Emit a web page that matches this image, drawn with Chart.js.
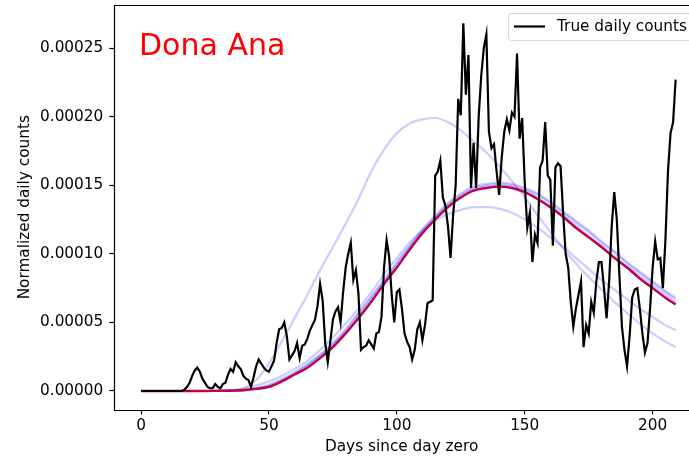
<!DOCTYPE html>
<html>
<head>
<meta charset="utf-8">
<script src="https://cdn.jsdelivr.net/npm/chart.js@4.4.1/dist/chart.umd.min.js"></script>
<style>
  html, body { margin: 0; padding: 0; background: #fff; overflow: hidden; }
  canvas { display: block; }
</style>
</head>
<body>
<canvas id="DashboardChart" width="689" height="462" style="width:689px;height:462px"></canvas>
<script>
// daily counts, index = day since day zero (0..209)
const trueCounts = [
  0, 0, 0, 0, 0, 0, 0, 0, 0, 0,
  0, 0, 0, 0, 0, 0, 0, 0.000001, 0.000003, 0.000006,
  0.000011, 0.000015, 0.000017, 0.000014, 0.000009, 0.000006, 0.000003, 0.000002, 0.000002, 0.000005,
  0.000003, 0.000002, 0.000005, 0.000006, 0.000012, 0.000016, 0.000014, 0.000021, 0.000018, 0.000016,
  0.000011, 0.000009, 0.000008, 0.000003, 0.000010, 0.000018, 0.000023, 0.000020, 0.000017, 0.000015,
  0.000014, 0.000018, 0.000022, 0.000035, 0.000045, 0.000046, 0.000050, 0.000040, 0.000023, 0.000026,
  0.000029, 0.000035, 0.000024, 0.000033, 0.000034, 0.000038, 0.000044, 0.000048, 0.000052, 0.000062,
  0.000078, 0.000066, 0.000035, 0.000021, 0.000036, 0.000052, 0.000058, 0.000061, 0.000050, 0.000072,
  0.000090, 0.000100, 0.000108, 0.000081, 0.000088, 0.000071, 0.000030, 0.000032, 0.000033, 0.000037,
  0.000034, 0.000031, 0.000042, 0.000043, 0.000054, 0.000090, 0.000110, 0.000098, 0.000070, 0.000050,
  0.000072, 0.000074, 0.000060, 0.000042, 0.000036, 0.000032, 0.000023, 0.000030, 0.000045, 0.000050,
  0.000037, 0.000048, 0.000064, 0.000065, 0.000066, 0.000157, 0.000160, 0.000168, 0.000141, 0.000135,
  0.000120, 0.000097, 0.000128, 0.000150, 0.000213, 0.000201, 0.000268, 0.000216, 0.000245, 0.000148,
  0.000181, 0.000148, 0.000200, 0.000230, 0.000250, 0.000260, 0.000189, 0.000177, 0.000180, 0.000160,
  0.000143, 0.000170, 0.000189, 0.000198, 0.000190, 0.000203, 0.000200, 0.000246, 0.000184, 0.000199,
  0.000152, 0.000119, 0.000130, 0.000094, 0.000114, 0.000108, 0.000163, 0.000168, 0.000196, 0.000157,
  0.000154, 0.000106, 0.000163, 0.000166, 0.000164, 0.000130, 0.000100, 0.000090, 0.000065, 0.000047,
  0.000060, 0.000070, 0.000080, 0.000032, 0.000048, 0.000042, 0.000065, 0.000057, 0.000080, 0.000094,
  0.000094, 0.000075, 0.000053, 0.000080, 0.000120, 0.000145, 0.000125, 0.000085, 0.000047, 0.000030,
  0.000018, 0.000040, 0.000068, 0.000074, 0.000075, 0.000060, 0.000042, 0.000028, 0.000035, 0.000060,
  0.000090, 0.000109, 0.000096, 0.000097, 0.000075, 0.000110, 0.000160, 0.000188, 0.000196, 0.000227
];

// model curves, read every 5 days
const fitDays = [0, 5, 10, 15, 20, 25, 30, 35, 40, 45, 50, 55, 60, 65, 70, 75, 80, 85, 90, 95, 100,
  105, 110, 115, 120, 125, 130, 135, 140, 145, 150, 155, 160, 165, 170, 175, 180, 185, 190, 195, 200, 205, 209];

const fitMean = [0, 0, 0, 0, 0, 0, 0.0000001, 0.0000002, 0.0000005, 0.0000015, 0.000003, 0.000007, 0.000012, 0.000017,
  0.000024, 0.000032, 0.000042, 0.000053, 0.000065, 0.000078, 0.000090, 0.000103, 0.000115, 0.000125, 0.000134,
  0.000141, 0.000146, 0.000148, 0.000149, 0.000148, 0.000145, 0.000140, 0.000134, 0.000127, 0.000119, 0.000112,
  0.000105, 0.000097, 0.000090, 0.000082, 0.000075, 0.000068, 0.000063];

const fitEarlyHigh = [0, 0, 0, 0, 0, 0, 0.0000001, 0.0000005, 0.000002, 0.000008, 0.000020, 0.000036, 0.000053, 0.000070,
  0.000088, 0.000105, 0.000122, 0.000140, 0.000160, 0.000176, 0.000188, 0.000195, 0.000198, 0.000199, 0.000196,
  0.000190, 0.000182, 0.000174, 0.000164, 0.000153, 0.000141, 0.000128, 0.000116, 0.000104, 0.000093, 0.000083,
  0.000074, 0.000065, 0.000057, 0.000049, 0.000042, 0.000036, 0.000032];

const fitLow = [0, 0, 0, 0, 0, 0, 0.0000001, 0.0000005, 0.0000015, 0.000004, 0.000007, 0.000011, 0.000016, 0.000022,
  0.000030, 0.000039, 0.000049, 0.000060, 0.000072, 0.000085, 0.000097, 0.000108, 0.000117, 0.000124, 0.000129,
  0.000132, 0.000134, 0.000134, 0.000133, 0.000130, 0.000125, 0.000119, 0.000112, 0.000105, 0.000097, 0.000089,
  0.000081, 0.000074, 0.000067, 0.000060, 0.000054, 0.000048, 0.0000445];

const fitNearA = [0, 0, 0, 0, 0, 0, 0.0000001, 0.0000003, 0.0000008, 0.0000022, 0.0000045, 0.0000085, 0.0000135, 0.0000195,
  0.0000265, 0.0000350, 0.000045, 0.000057, 0.000069, 0.000081, 0.000094, 0.000106, 0.000118, 0.000128, 0.000137,
  0.000144, 0.000149, 0.000151, 0.000152, 0.000151, 0.000148, 0.000144, 0.000138, 0.000131, 0.000124, 0.000117,
  0.000109, 0.000102, 0.000094, 0.000087, 0.000080, 0.000073, 0.000068];

const fitNearB = [0, 0, 0, 0, 0, 0, 0.0000001, 0.0000003, 0.0000007, 0.000002, 0.000004, 0.000008, 0.000013, 0.000019,
  0.000026, 0.000034, 0.000044, 0.000056, 0.000068, 0.000080, 0.000093, 0.000105, 0.000117, 0.000127, 0.000136,
  0.000143, 0.000148, 0.000150, 0.000151, 0.000150, 0.000147, 0.000143, 0.000137, 0.000130, 0.000123, 0.000116,
  0.000108, 0.000101, 0.000093, 0.000086, 0.000079, 0.000072, 0.000067];

const fitNearC = [0, 0, 0, 0, 0, 0, 0.0000001, 0.0000002, 0.0000005, 0.0000015, 0.000003, 0.000007, 0.000012, 0.000018,
  0.000025, 0.000033, 0.000043, 0.000054, 0.000066, 0.000079, 0.000091, 0.000104, 0.000116, 0.000126, 0.000135,
  0.000142, 0.000147, 0.000149, 0.000150, 0.000149, 0.000146, 0.000141, 0.000135, 0.000128, 0.000121, 0.000113,
  0.000106, 0.000098, 0.000091, 0.000084, 0.000077, 0.000070, 0.000065];

const xTicks = [0, 50, 100, 150, 200];
const yTicks = [0, 0.00005, 0.00010, 0.00015, 0.00020, 0.00025];

const FONT = "'DejaVu Sans', sans-serif";
const FONT_SIZE = 15.3;
const LIGHT_BLUE = 'rgba(0, 0, 255, 0.2)';

function toPoints(xs, ys) {
    let pts = [];
    for (var i = 0; i < ys.length; i++) {
        pts.push({ x: xs[i], y: ys[i] });
    }
    return pts;
}

function buildFitDataset(label, values, color, width, order) {
    return {
        label: label,
        data: toPoints(fitDays, values),
        borderColor: color,
        borderWidth: width,
        pointRadius: 0,
        fill: false,
        cubicInterpolationMode: 'monotone',
        order: order
    };
}

// spines, title text and the single-entry legend (matplotlib look)
// the plot runs past the right edge of the picture, so no right spine
const decorations = {
    id: 'decorations',
    afterDatasetsDraw(chart) {
        const ctx = chart.ctx;
        const a = chart.chartArea;
        const l = Math.round(a.left) + 0.5;
        const t = Math.round(a.top) + 0.5;
        const b = Math.round(a.bottom) + 0.5;
        ctx.save();
        ctx.strokeStyle = '#000';
        ctx.lineWidth = 1.2;
        ctx.beginPath();
        ctx.moveTo(chart.width + 2, t);
        ctx.lineTo(l, t);
        ctx.lineTo(l, b);
        ctx.lineTo(chart.width + 2, b);
        ctx.stroke();
        ctx.restore();
    },
    afterDraw(chart) {
        const ctx = chart.ctx;
        ctx.save();
        ctx.fillStyle = '#ff0000';
        ctx.font = "30px " + FONT;
        ctx.textBaseline = 'alphabetic';
        ctx.fillText('Dona Ana', 139, 55);

        // legend box, its right part falls outside the picture
        ctx.beginPath();
        ctx.roundRect(508.5, 13.5, 190, 27, 3);
        ctx.fillStyle = 'rgba(255,255,255,0.8)';
        ctx.fill();
        ctx.strokeStyle = 'rgba(204,204,204,0.8)';
        ctx.lineWidth = 1;
        ctx.stroke();

        ctx.beginPath();
        ctx.moveTo(514, 26.5);
        ctx.lineTo(545, 26.5);
        ctx.strokeStyle = '#000';
        ctx.lineWidth = 2.2;
        ctx.stroke();

        ctx.fillStyle = '#000';
        ctx.font = FONT_SIZE + "px " + FONT;
        ctx.textBaseline = 'middle';
        ctx.fillText('True daily counts', 557, 27);
        ctx.restore();
    }
};

const datasets = [
    {
        label: 'True daily counts',
        data: trueCounts.map((v, i) => ({ x: i, y: v })),
        borderColor: '#000',
        borderWidth: 2.2,
        pointRadius: 0,
        tension: 0,
        fill: false,
        order: 0
    },
    buildFitDataset('fit', fitMean, 'rgb(192, 0, 72)', 2.4, 1),
    buildFitDataset('sample 1', fitNearA, LIGHT_BLUE, 2.2, 2),
    buildFitDataset('sample 2', fitNearB, LIGHT_BLUE, 2.2, 3),
    buildFitDataset('sample 3', fitNearC, LIGHT_BLUE, 2.2, 4),
    buildFitDataset('sample 4', fitLow, LIGHT_BLUE, 2.2, 5),
    buildFitDataset('sample 5', fitEarlyHigh, LIGHT_BLUE, 2.2, 6)
];

const config = {
    type: 'line',
    data: { datasets: datasets },
    options: {
        responsive: false,
        animation: false,
        devicePixelRatio: 1,
        layout: { padding: { top: 5, right: 0, left: 0, bottom: 0 } },
        plugins: {
            legend: { display: false },
            tooltip: { enabled: false }
        },
        scales: {
            x: {
                type: 'linear',
                // visible part of the axis only, the picture is cut at the right
                min: -10.45,
                max: 214.22,
                afterBuildTicks: function (scale) {
                    scale.ticks = xTicks.map(v => ({ value: v }));
                },
                afterFit: function (scale) {
                    scale.height = 52.5;
                },
                grid: { display: true, drawOnChartArea: false, tickLength: 5, tickColor: '#000', tickWidth: 1.2 },
                border: { display: false },
                ticks: {
                    color: '#000',
                    font: { family: FONT, size: FONT_SIZE },
                    padding: 2,
                    maxRotation: 0,
                    autoSkip: false,
                    callback: function (value) { return String(value); }
                },
                title: {
                    display: true,
                    text: 'Days since day zero',
                    color: '#000',
                    font: { family: FONT, size: FONT_SIZE },
                    padding: { top: 0, bottom: 6 }
                }
            },
            y: {
                type: 'linear',
                min: -0.0000135,
                max: 0.0002814,
                afterBuildTicks: function (scale) {
                    scale.ticks = yTicks.map(v => ({ value: v }));
                },
                afterFit: function (scale) {
                    scale.width = 114.3;
                    scale.paddingTop = 0;
                    scale.paddingBottom = 0;
                },
                grid: { display: true, drawOnChartArea: false, tickLength: 5, tickColor: '#000', tickWidth: 1.2 },
                border: { display: false },
                ticks: {
                    color: '#000',
                    font: { family: FONT, size: FONT_SIZE },
                    padding: 6,
                    autoSkip: false,
                    callback: function (value) { return value.toFixed(5); }
                },
                title: {
                    display: true,
                    text: 'Normalized daily counts',
                    color: '#000',
                    font: { family: FONT, size: FONT_SIZE },
                    padding: { top: 16, bottom: 0 }
                }
            }
        }
    },
    plugins: [decorations]
};

let myChart = new Chart(document.getElementById('DashboardChart'), config);
</script>
</body>
</html>
